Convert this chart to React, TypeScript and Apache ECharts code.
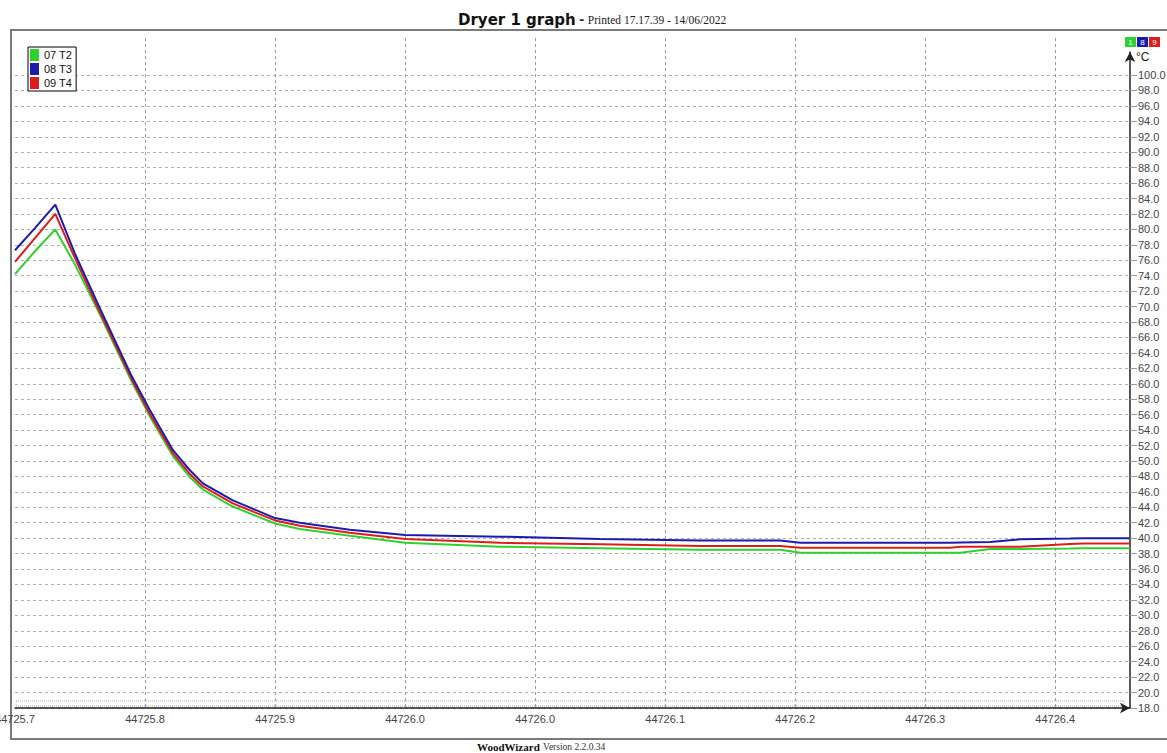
import React, { useEffect, useRef } from "react";
import * as echarts from "echarts";

// time axis: hours since serial date 44725.7 (labels shown as serial dates)
const startSerial = 44725.7;
const hours = [0, 0.31, 0.62, 0.92, 1.31, 1.8, 2.08, 2.43, 2.69, 2.89, 3.35, 4.0, 4.38, 5.15, 6.0, 7.46, 9.0, 10.54, 11.77, 12.08, 13.6, 14.38, 14.54, 15.0, 15.46, 16.23, 16.43, 17.15];

const t2Values = [74.2, 77.2, 80.0, 75.5, 68.9, 60.2, 55.7, 50.6, 47.9, 46.3, 44.1, 41.9, 41.2, 40.3, 39.4, 38.9, 38.7, 38.5, 38.5, 38.1, 38.1, 38.1, 38.1, 38.6, 38.6, 38.65, 38.7, 38.7];
const t3Values = [77.3, 80.2, 83.2, 76.9, 69.7, 60.9, 56.5, 51.4, 48.8, 47.1, 44.9, 42.6, 42.0, 41.1, 40.4, 40.2, 39.9, 39.7, 39.7, 39.4, 39.4, 39.4, 39.45, 39.5, 39.85, 39.95, 40.0, 40.0];
const t4Values = [75.8, 78.9, 82.0, 76.3, 69.2, 60.5, 56.0, 51.0, 48.3, 46.7, 44.5, 42.3, 41.6, 40.7, 39.9, 39.4, 39.2, 39.0, 39.0, 38.75, 38.75, 38.75, 38.9, 38.9, 38.9, 39.25, 39.3, 39.3];

const seriesNames = ["07 T2", "08 T3", "09 T4"];
const seriesColors = ["#2ed12e", "#1c1caa", "#dd1c1c"];

const yMin = 18;
const yMax = 100;
const xMax = 17.15;

const SANS = "'Liberation Sans', Arial, sans-serif";
const SERIF = "'Liberation Serif', 'Times New Roman', serif";

export default function App() {
  const ref = useRef<HTMLDivElement>(null);

  useEffect(() => {
    if (!ref.current) return;
    const chart = echarts.init(ref.current, undefined, { renderer: "svg" });

    const pair = (vals: number[]) => hours.map((h, i) => [h, vals[i]]);
    const fmtX = (v: number) =>
      (Math.round(startSerial * 10 + (v * 10) / 24) / 10).toFixed(1);

    const gridPos = { left: 15, width: 1115, outerBoundsMode: "none", containLabel: false };

    const mkSeries = (idx: number, vals: number[]) => ({
      name: seriesNames[idx],
      type: "line",
      xAxisIndex: 0,
      yAxisIndex: 0,
      data: pair(vals),
      showSymbol: false,
      symbol: "none",
      lineStyle: { color: seriesColors[idx], width: 2 },
      itemStyle: { color: seriesColors[idx] },
    });

    chart.setOption({
      animation: false,
      backgroundColor: "#ffffff",
      grid: [
        { ...gridPos, top: 75, height: 633 },
        { ...gridPos, top: 38, height: 670 },
        { ...gridPos, top: 52, height: 656 },
      ],
      xAxis: [
        {
          type: "value",
          gridIndex: 0,
          min: 0,
          max: xMax,
          interval: 2,
          axisLine: {
            show: true,
            onZero: false,
            lineStyle: { color: "#222", width: 1.5 },
            symbol: ["none", "arrow"],
            symbolSize: [8, 10],
          },
          axisTick: { show: false },
          splitLine: { show: false },
          axisLabel: {
            formatter: fmtX,
            showMaxLabel: false,
            color: "#444",
            fontSize: 11,
            fontFamily: SANS,
            margin: 5,
          },
        },
        {
          type: "value",
          gridIndex: 1,
          min: 0,
          max: xMax,
          interval: 2,
          axisLine: { show: false },
          axisTick: { show: false },
          axisLabel: { show: false },
          splitLine: {
            show: true,
            showMinLine: false,
            showMaxLine: false,
            lineStyle: { color: "#9a9a9a", type: [3, 3], width: 1 },
          },
        },
        { type: "value", gridIndex: 2, min: 0, max: 1, show: false },
      ],
      yAxis: [
        {
          type: "value",
          gridIndex: 0,
          position: "right",
          min: yMin,
          max: yMax,
          interval: 2,
          axisLine: { show: false, onZero: false },
          axisTick: { show: true, length: 7, lineStyle: { color: "#999" } },
          axisLabel: {
            formatter: (v: number) => v.toFixed(1),
            color: "#444",
            fontSize: 11,
            fontFamily: SANS,
            margin: 8,
          },
          splitLine: {
            show: true,
            lineStyle: { color: "#b0b0b0", type: [3, 3], width: 1 },
          },
        },
        { type: "value", gridIndex: 1, min: 0, max: 1, show: false },
        {
          type: "value",
          gridIndex: 2,
          position: "right",
          min: 0,
          max: 1,
          axisLine: {
            show: true,
            onZero: false,
            lineStyle: { color: "#222", width: 1.5 },
            symbol: ["none", "arrow"],
            symbolSize: [8, 10],
          },
          axisTick: { show: false },
          axisLabel: { show: false },
          splitLine: { show: false },
        },
      ],
      legend: {
        data: seriesNames,
        orient: "vertical",
        left: 28,
        top: 47,
        icon: "rect",
        itemWidth: 9,
        itemHeight: 12,
        itemGap: 2,
        itemTextGap: 3,
        padding: [2, 4, 2, 2],
        borderColor: "#000",
        borderWidth: 1,
        backgroundColor: "#fff",
        textStyle: { fontSize: 11, color: "#111", fontFamily: SANS },
      },
      graphic: [
        {
          type: "polyline",
          shape: { points: [[1167, 30], [11, 30], [11, 739], [1167, 739]] },
          style: { stroke: "#7a7a7a", lineWidth: 2, fill: "none" },
          silent: true,
        },
        {
          type: "rect",
          shape: { x: 16, y: 701, width: 1108, height: 5 },
          style: { stroke: "#aaa", lineWidth: 1, lineDash: [1, 1], fill: "none" },
          silent: true,
        },
        {
          type: "text",
          left: 458,
          top: 12,
          style: {
            text: "{a|Dryer 1 graph} {b|-} {c|Printed 17.17.39 - 14/06/2022}",
            rich: {
              a: { fontFamily: "'DejaVu Sans', Verdana, sans-serif", fontWeight: "bold", fontSize: 15, fill: "#111" },
              b: { fontFamily: "'DejaVu Sans', Verdana, sans-serif", fontWeight: "bold", fontSize: 13, fill: "#333" },
              c: { fontFamily: SERIF, fontSize: 11.5, fill: "#222" },
            },
          },
          silent: true,
        },
        {
          type: "text",
          left: 477,
          top: 741,
          style: {
            text: "{a|WoodWizard} {b|Version 2.2.0.34}",
            rich: {
              a: { fontFamily: SERIF, fontWeight: "bold", fontSize: 11, fill: "#111" },
              b: { fontFamily: SERIF, fontSize: 9.5, fill: "#333" },
            },
          },
          silent: true,
        },
        {
          type: "text",
          left: 1136,
          top: 51,
          style: { text: "°C", fontFamily: SANS, fontSize: 12, fill: "#222" },
          silent: true,
        },
        {
          type: "group",
          left: 1125,
          top: 37,
          children: seriesColors.map((c, i) => ({
            type: "rect",
            shape: { x: i * 12, y: 0, width: 11, height: 10 },
            style: { fill: c },
            textContent: {
              style: { text: ["1", "8", "9"][i], fill: "#fff", fontSize: 8, fontFamily: SANS },
            },
            textConfig: { position: "inside" },
          })),
          silent: true,
        },
      ],
      series: [
        mkSeries(0, t2Values),
        mkSeries(2, t4Values),
        mkSeries(1, t3Values),
      ],
    });

    return () => chart.dispose();
  }, []);

  return (
    <div
      ref={ref}
      style={{ position: "absolute", left: 0, top: 0, width: 1167, height: 753 }}
    />
  );
}
